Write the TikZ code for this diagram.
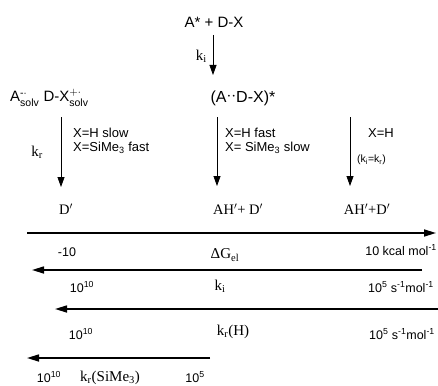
\documentclass[tikz,border=0pt]{standalone}
\usepackage{amsmath}
\usepackage{fontspec}
\setmainfont{Liberation Serif}
\setsansfont{Liberation Sans}
\usetikzlibrary{arrows.meta}

\begin{document}
\begin{tikzpicture}[x=1pt, y=-1pt,
  species/.style={font=\fontsize{15}{17}\selectfont\sffamily, inner sep=0pt},
  product/.style={font=\fontsize{14.5}{17}\selectfont, inner sep=0pt},
  cond/.style={font=\fontsize{13}{15}\selectfont\sffamily, inner sep=0pt, anchor=west},
  scaleval/.style={font=\fontsize{12.5}{14}\selectfont\sffamily, inner sep=0pt},
  scalelbl/.style={font=\fontsize{15}{17}\selectfont, inner sep=0pt},
  varr/.style={-{Triangle[length=10pt,width=7pt]}, line width=0.8pt},
  harr/.style={-{Triangle[length=12pt,width=7pt]}, line width=1.6pt}
]
  \useasboundingbox (0,0) rectangle (438,385);

  \node[species] (start) at (214,22) {A* + D-X};
  \node[species, anchor=west] (ion) at (10,98)
    {A$^{\textsf{-}\cdot}_{\textsf{solv}}$ D-X$_{\textsf{solv}}^{+\cdot}$};
  \node[species, font=\fontsize{16}{18}\selectfont\sffamily] (exci) at (243,98)
    {(A\raisebox{2pt}{$\cdot\cdot$}D-X)*};
  \coordinate (ki0) at (213,35);
  \coordinate (ki1) at (213,75);
  \draw[varr] (ki0) -- (ki1);
  \node[scalelbl, anchor=east] (kilbl) at (207,56) {k\textsubscript{i}};

  \coordinate (l0) at (61,117);   \coordinate (l1) at (61,187);
  \coordinate (m0) at (217,117);  \coordinate (m1) at (217,186);
  \coordinate (r0) at (350,117);  \coordinate (r1) at (350,186);
  \draw[varr] (l0) -- (l1);
  \draw[varr] (m0) -- (m1);
  \draw[varr] (r0) -- (r1);
  \node[scalelbl] (krlbl) at (37,152) {k\textsubscript{r}};
  \node[cond] (slowH) at (73,133) {X=H slow};
  \node[cond] (fastSi) at (73,148) {X=SiMe\textsubscript{3} fast};
  \node[cond] (fastH) at (225,133) {X=H fast};
  \node[cond] (slowSi) at (225,148) {X= SiMe\textsubscript{3} slow};
  \node[cond] (onlyH) at (368,133) {X=H};
  \node[cond, font=\fontsize{10.5}{12}\selectfont\sffamily] (equal) at (357,160)
    {(k\textsubscript{i}=k\textsubscript{r})};

  \node[product] (dprod) at (66,209) {D$^\prime$};
  \node[product] (pair1) at (238,209) {AH$^\prime$+ D$^\prime$};
  \node[product] (pair2) at (367,209) {AH$^\prime$+D$^\prime$};

  \coordinate (g0) at (27,233);   \coordinate (g1) at (436,233);
  \coordinate (a0) at (422,270);  \coordinate (a1) at (32,270);
  \coordinate (b0) at (438,309);  \coordinate (b1) at (55,309);
  \coordinate (c0) at (210,358);  \coordinate (c1) at (27,358);
  \draw[harr] (g0) -- (g1);
  \draw[harr] (a0) -- (a1);
  \draw[harr] (b0) -- (b1);
  \draw[harr] (c0) -- (c1);

  \node[scaleval] (gmin) at (67,252) {-10};
  \node[scalelbl] (dg) at (225,255) {ΔG\textsubscript{el}};
  \node[scaleval, anchor=east] (gmax) at (437,250) {10 kcal mol\textsuperscript{-1}};
  \node[scaleval] (kimax) at (82,287) {10\textsuperscript{10}};
  \node[scalelbl] (kilbl2) at (220,286) {k\textsubscript{i}};
  \node[scaleval, anchor=east] (kimin) at (434,287) {10\textsuperscript{5} s\textsuperscript{-1}mol\textsuperscript{-1}};
  \node[scaleval] (khmax) at (81,334) {10\textsuperscript{10}};
  \node[scalelbl] (khlbl) at (233,332) {k\textsubscript{r}(H)};
  \node[scaleval, anchor=east] (khmin) at (435,334) {10\textsuperscript{5} s\textsuperscript{-1}mol\textsuperscript{-1}};
  \node[scaleval] (ksmax) at (49,377) {10\textsuperscript{10}};
  \node[scalelbl, anchor=west] (kslbl) at (80,378) {k\textsubscript{r}(SiMe\textsubscript{3})};
  \node[scaleval] (ksmin) at (195,377) {10\textsuperscript{5}};
\end{tikzpicture}
\end{document}
